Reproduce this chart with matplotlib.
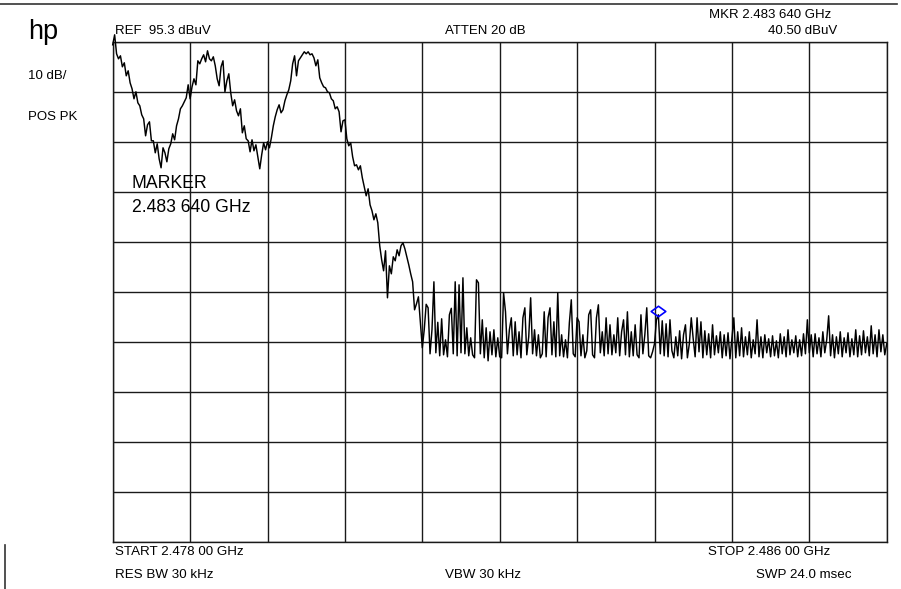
import numpy as np
import matplotlib
matplotlib.use("Agg")
import matplotlib.pyplot as plt
from matplotlib.path import Path

# ---------------- data ----------------
start_ghz = 2.478
stop_ghz = 2.486
ref_level = 95.3        # dBuV, top graticule line
db_per_div = 10
n_div = 10

# trace values in dBuV, 40 sweep points per horizontal division (+ final point)
div0 = [94.8, 96.8, 93.0, 92.0, 92.6, 90.4, 91.2, 88.6, 89.6, 87.2,
        86.0, 84.0, 85.4, 83.2, 82.6, 80.8, 80.0, 76.6, 78.8, 79.4,
        75.6, 75.6, 73.2, 75.0, 72.0, 70.2, 74.2, 73.2, 71.4, 74.0,
        75.0, 77.0, 75.8, 78.6, 80.0, 82.0, 82.6, 83.4, 84.2, 86.8]
div1 = [84.0, 86.4, 88.0, 86.8, 91.6, 91.0, 92.0, 92.8, 91.4, 93.6,
        92.0, 91.6, 92.4, 90.6, 88.0, 86.6, 90.4, 91.6, 85.4, 87.6,
        89.0, 85.2, 82.6, 83.8, 81.6, 80.6, 82.0, 77.2, 78.6, 76.0,
        75.6, 73.4, 75.8, 73.6, 74.8, 72.4, 70.0, 72.8, 75.2, 73.8]
div2 = [75.4, 74.2, 76.2, 78.6, 80.4, 81.8, 82.8, 81.2, 81.8, 83.6,
        84.8, 85.8, 87.6, 91.0, 92.6, 88.6, 91.6, 92.2, 92.8, 93.4,
        93.0, 93.4, 92.8, 93.0, 92.2, 90.6, 91.8, 88.2, 87.2, 86.4,
        86.2, 85.4, 85.2, 84.0, 83.6, 82.0, 82.4, 81.4, 77.4, 79.6]
div3 = [79.8, 76.0, 74.6, 75.2, 72.4, 70.6, 70.8, 69.8, 70.6, 68.2,
        66.4, 64.6, 66.0, 62.8, 61.6, 59.8, 61.0, 59.2, 54.6, 51.8,
        49.6, 53.6, 44.2, 50.6, 49.0, 52.4, 51.6, 53.8, 52.6, 54.6,
        55.2, 54.0, 52.4, 50.8, 49.0, 47.4, 41.8, 43.0, 44.4, 39.2]
div4 = [34.2, 37.8, 42.9, 42.2, 33.0, 37.8, 47.4, 33.2, 39.3, 32.6,
        40.0, 32.8, 35.8, 32.4, 40.8, 42.1, 33.0, 47.4, 32.6, 46.8,
        33.2, 48.2, 33.0, 38.2, 32.6, 36.2, 32.8, 32.2, 47.8, 47.2,
        33.0, 39.8, 32.2, 38.2, 31.6, 37.4, 32.8, 37.8, 32.4, 36.2]
div5 = [32.4, 32.2, 45.2, 41.4, 33.0, 37.8, 40.2, 32.6, 39.4, 32.8,
        37.4, 32.2, 40.2, 42.2, 32.8, 36.4, 44.2, 33.0, 37.8, 32.6,
        36.8, 32.2, 33.0, 41.4, 32.4, 40.2, 42.2, 32.8, 39.4, 32.4,
        45.2, 32.6, 36.8, 32.4, 35.8, 32.2, 39.2, 43.8, 33.0, 32.4]
div6 = [40.2, 39.4, 32.6, 36.8, 32.2, 33.6, 40.8, 41.8, 32.8, 32.2,
        40.2, 42.8, 33.2, 37.4, 32.6, 40.2, 33.0, 38.8, 32.8, 36.8,
        33.2, 40.2, 32.6, 37.4, 39.8, 32.8, 41.4, 32.4, 37.4, 32.6,
        38.8, 32.8, 32.2, 40.8, 33.0, 36.8, 42.2, 32.6, 32.2, 33.4]
div7 = [35.0, 39.8, 40.8, 33.0, 39.6, 32.6, 39.0, 32.4, 39.8, 33.6,
        32.2, 36.4, 32.6, 37.6, 32.0, 36.8, 38.8, 32.2, 35.0, 40.2,
        36.0, 32.4, 40.2, 33.4, 39.4, 32.2, 37.6, 32.8, 37.0, 32.2,
        38.8, 32.8, 36.6, 33.2, 37.4, 32.2, 36.8, 32.6, 37.2, 32.0]
div8 = [36.2, 40.2, 32.2, 37.4, 32.6, 38.2, 32.4, 36.4, 32.8, 37.4,
        32.2, 35.8, 33.0, 39.8, 32.4, 36.4, 32.2, 36.8, 33.2, 36.0,
        32.4, 36.6, 32.6, 35.6, 32.2, 37.0, 33.0, 36.4, 32.4, 37.8,
        32.8, 35.8, 33.2, 36.6, 32.4, 35.8, 32.6, 37.0, 33.0, 39.8]
div9 = [33.2, 36.8, 32.4, 37.0, 33.0, 36.2, 32.4, 37.4, 33.2, 35.8,
        40.6, 32.6, 36.8, 32.2, 36.4, 33.0, 37.4, 32.4, 36.2, 33.2,
        37.2, 32.4, 36.0, 32.8, 37.8, 32.4, 36.6, 32.8, 37.6, 33.2,
        36.4, 32.6, 38.6, 33.0, 36.8, 32.4, 37.8, 33.4, 36.8, 32.8,
        35.0]

marker_ghz = 2.48364
marker_level = 41.5     # where the marker diamond is drawn on the trace

# ---------------- build trace ----------------
trace_db = np.array(div0 + div1 + div2 + div3 + div4 + div5 + div6 + div7 + div8 + div9)
freq_ghz = np.linspace(start_ghz, stop_ghz, len(trace_db))

W, H = 901, 589
fig = plt.figure(figsize=(W / 100, H / 100), dpi=100)
fig.patch.set_facecolor("white")

def fx(px):
    return px / W

def fy(py):
    return 1 - py / H

ax_left, ax_right, ax_top, ax_bot = 112.7, 886.7, 42.3, 542.3
ax = fig.add_axes([fx(ax_left), fy(ax_bot), (ax_right - ax_left) / W, (ax_bot - ax_top) / H])

bottom_level = ref_level - db_per_div * n_div
ax.set_xlim(start_ghz, stop_ghz)
ax.set_ylim(bottom_level, ref_level)
ax.set_xticks(np.linspace(start_ghz, stop_ghz, n_div + 1))
ax.set_yticks(np.linspace(bottom_level, ref_level, n_div + 1))
ax.grid(True, color="#1a1a1a", linewidth=1.0)
ax.tick_params(length=0, labelbottom=False, labelleft=False)
for s in ax.spines.values():
    s.set_color("#1a1a1a")
    s.set_linewidth(1.0)

ax.plot(freq_ghz, trace_db, color="black", linewidth=1.05, clip_on=False, zorder=3)

diamond = Path([(-1, 0), (0, 0.72), (1, 0), (0, -0.72), (-1, 0)],
               [Path.MOVETO, Path.LINETO, Path.LINETO, Path.LINETO, Path.CLOSEPOLY])
ax.plot([marker_ghz], [marker_level], marker=diamond, markersize=10.5,
        markerfacecolor="none", markeredgecolor="#0000ff", markeredgewidth=1.2,
        linestyle="none", zorder=4)

# ---------------- frame lines ----------------
fig.add_artist(plt.Line2D([0, fx(897)], [fy(4), fy(4)], color="#333", linewidth=1.2))
fig.add_artist(plt.Line2D([fx(5), fx(5)], [fy(545), 0], color="#333", linewidth=1.2))

# ---------------- texts ----------------
reg = ["Liberation Sans", "DejaVu Sans"]
small = 9.5
bottom = 9.6

fig.text(fx(28), fy(32), "hp", fontsize=19.5, family=reg, va="center", ha="left")
fig.text(fx(28), fy(76), "10 dB/", fontsize=small, family=reg, va="center", ha="left")
fig.text(fx(28), fy(117), "POS PK", fontsize=small, family=reg, va="center", ha="left")
fig.text(fx(115), fy(31.5), "REF  95.3 dBuV", fontsize=small, family=reg, va="center", ha="left")
fig.text(fx(445), fy(31.5), "ATTEN 20 dB", fontsize=small, family=reg, va="center", ha="left")
fig.text(fx(831), fy(15), "MKR 2.483 640 GHz", fontsize=small, family=reg, va="center", ha="right")
fig.text(fx(837), fy(31.5), "40.50 dBuV", fontsize=small, family=reg, va="center", ha="right")
fig.text(fx(131.5), fy(183.5), "MARKER", fontsize=12.7, family=reg, va="center", ha="left")
fig.text(fx(131.5), fy(208), "2.483 640 GHz", fontsize=12.7, family=reg, va="center", ha="left")

fig.text(fx(115), fy(552), "START 2.478 00 GHz", fontsize=bottom, family=reg, va="center", ha="left")
fig.text(fx(830), fy(552), "STOP 2.486 00 GHz", fontsize=bottom, family=reg, va="center", ha="right")
fig.text(fx(115), fy(575), "RES BW 30 kHz", fontsize=bottom, family=reg, va="center", ha="left")
fig.text(fx(445), fy(575), "VBW 30 kHz", fontsize=bottom, family=reg, va="center", ha="left")
fig.text(fx(852), fy(575), "SWP 24.0 msec", fontsize=bottom, family=reg, va="center", ha="right")

fig.savefig("out.png", dpi=100, facecolor="white")
